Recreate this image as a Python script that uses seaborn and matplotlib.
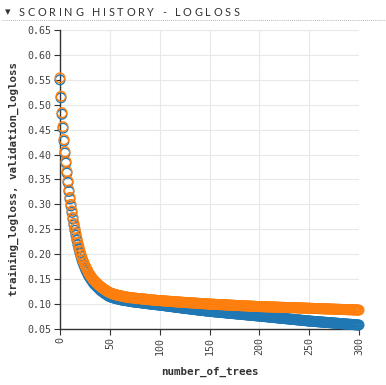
import numpy as np
import pandas as pd
import matplotlib
matplotlib.use("Agg")
import matplotlib.pyplot as plt
from matplotlib.lines import Line2D
import seaborn as sns

# ─── Data ────────────────────────────────────────────────────────────────────
training_logloss = [
    0.550, 0.514, 0.481, 0.453, 0.427, 0.403, 0.383, 0.363, 0.344, 0.326,
    0.311, 0.297, 0.284, 0.271, 0.259, 0.248, 0.238, 0.228, 0.219, 0.211,
    0.203, 0.196, 0.189, 0.183, 0.178, 0.173, 0.168, 0.164, 0.160, 0.156,
    0.153, 0.150, 0.147, 0.144, 0.141, 0.139, 0.137, 0.135, 0.133, 0.131,
    0.129, 0.127, 0.126, 0.124, 0.123, 0.121, 0.120, 0.119, 0.117, 0.116,
    0.115, 0.114, 0.114, 0.113, 0.112, 0.112, 0.111, 0.111, 0.110, 0.110,
    0.109, 0.109, 0.108, 0.108, 0.108, 0.107, 0.107, 0.107, 0.106, 0.106,
    0.106, 0.105, 0.105, 0.105, 0.104, 0.104, 0.1038, 0.1036, 0.1033, 0.1031,
    0.1028, 0.1026, 0.1023, 0.1021, 0.1018, 0.1016, 0.1013, 0.1011, 0.1008, 0.1006,
    0.1003, 0.1001, 0.0998, 0.0996, 0.0993, 0.0991, 0.0989, 0.0987, 0.0985, 0.0983,
    0.0980, 0.0977, 0.0975, 0.0972, 0.0970, 0.0967, 0.0964, 0.0962, 0.0959, 0.0957,
    0.0954, 0.0951, 0.0949, 0.0946, 0.0944, 0.0941, 0.0938, 0.0936, 0.0933, 0.0931,
    0.0928, 0.0925, 0.0923, 0.0920, 0.0918, 0.0915, 0.0913, 0.0910, 0.0908, 0.0905,
    0.0903, 0.0900, 0.0898, 0.0895, 0.0893, 0.0890, 0.0888, 0.0885, 0.0883, 0.0880,
    0.0878, 0.0876, 0.0873, 0.0871, 0.0869, 0.0866, 0.0864, 0.0862, 0.0859, 0.0857,
    0.0855, 0.0853, 0.0851, 0.0849, 0.0847, 0.0845, 0.0843, 0.0841, 0.0839, 0.0837,
    0.0836, 0.0834, 0.0832, 0.0830, 0.0828, 0.0826, 0.0824, 0.0822, 0.0820, 0.0818,
    0.0817, 0.0815, 0.0813, 0.0811, 0.0809, 0.0807, 0.0805, 0.0803, 0.0801, 0.0799,
    0.0798, 0.0796, 0.0794, 0.0792, 0.0790, 0.0788, 0.0786, 0.0784, 0.0782, 0.0780,
    0.0779, 0.0777, 0.0775, 0.0773, 0.0771, 0.0769, 0.0767, 0.0765, 0.0763, 0.0762,
    0.0760, 0.0758, 0.0756, 0.0754, 0.0752, 0.0750, 0.0748, 0.0746, 0.0744, 0.0742,
    0.0740, 0.0738, 0.0736, 0.0734, 0.0732, 0.0730, 0.0728, 0.0726, 0.0724, 0.0722,
    0.0720, 0.0718, 0.0716, 0.0714, 0.0712, 0.0710, 0.0708, 0.0706, 0.0704, 0.0702,
    0.0700, 0.0698, 0.0696, 0.0694, 0.0692, 0.0690, 0.0688, 0.0686, 0.0684, 0.0682,
    0.0680, 0.0678, 0.0676, 0.0674, 0.0672, 0.0670, 0.0668, 0.0666, 0.0664, 0.0662,
    0.0660, 0.0658, 0.0657, 0.0655, 0.0653, 0.0652, 0.0650, 0.0649, 0.0647, 0.0645,
    0.0644, 0.0642, 0.0641, 0.0639, 0.0637, 0.0636, 0.0634, 0.0633, 0.0631, 0.0629,
    0.0628, 0.0626, 0.0625, 0.0623, 0.0621, 0.0620, 0.0618, 0.0617, 0.0615, 0.0613,
    0.0612, 0.0610, 0.0609, 0.0607, 0.0605, 0.0604, 0.0602, 0.0601, 0.0599, 0.0597,
    0.0596, 0.0594, 0.0593, 0.0591, 0.0589, 0.0588, 0.0586, 0.0585, 0.0583, 0.0581,
    0.0580,
]

validation_logloss = [
    0.554, 0.517, 0.484, 0.456, 0.430, 0.406, 0.386, 0.366, 0.347, 0.329,
    0.314, 0.300, 0.287, 0.274, 0.262, 0.252, 0.242, 0.232, 0.223, 0.215,
    0.207, 0.200, 0.194, 0.188, 0.183, 0.178, 0.174, 0.170, 0.166, 0.162,
    0.159, 0.156, 0.153, 0.150, 0.148, 0.146, 0.144, 0.142, 0.140, 0.138,
    0.136, 0.135, 0.133, 0.132, 0.130, 0.129, 0.128, 0.126, 0.125, 0.124,
    0.123, 0.122, 0.121, 0.121, 0.120, 0.119, 0.119, 0.118, 0.118, 0.117,
    0.117, 0.116, 0.116, 0.116, 0.115, 0.115, 0.114, 0.114, 0.114, 0.113,
    0.113, 0.113, 0.113, 0.112, 0.112, 0.112, 0.112, 0.111, 0.111, 0.111,
    0.111, 0.111, 0.110, 0.110, 0.110, 0.110, 0.110, 0.109, 0.109, 0.109,
    0.109, 0.109, 0.108, 0.108, 0.108, 0.108, 0.108, 0.107, 0.107, 0.107,
    0.1070, 0.1069, 0.1067, 0.1066, 0.1064, 0.1063, 0.1061, 0.1060, 0.1058, 0.1057,
    0.1055, 0.1054, 0.1052, 0.1051, 0.1049, 0.1048, 0.1046, 0.1045, 0.1043, 0.1042,
    0.1040, 0.1039, 0.1038, 0.1036, 0.1035, 0.1033, 0.1032, 0.1031, 0.1029, 0.1028,
    0.1027, 0.1025, 0.1024, 0.1023, 0.1021, 0.1020, 0.1019, 0.1017, 0.1016, 0.1015,
    0.1013, 0.1012, 0.1011, 0.1009, 0.1008, 0.1007, 0.1005, 0.1004, 0.1003, 0.1001,
    0.1000, 0.0999, 0.0998, 0.0997, 0.0996, 0.0995, 0.0994, 0.0993, 0.0992, 0.0991,
    0.0990, 0.0989, 0.0988, 0.0987, 0.0986, 0.0985, 0.0984, 0.0983, 0.0982, 0.0981,
    0.0980, 0.0979, 0.0978, 0.0977, 0.0976, 0.0975, 0.0974, 0.0973, 0.0972, 0.0971,
    0.0970, 0.0969, 0.0968, 0.0967, 0.0966, 0.0965, 0.0964, 0.0963, 0.0962, 0.0961,
    0.0960, 0.0959, 0.0958, 0.0957, 0.0956, 0.0955, 0.0954, 0.0953, 0.0952, 0.0951,
    0.0950, 0.0949, 0.0949, 0.0948, 0.0947, 0.0947, 0.0946, 0.0945, 0.0945, 0.0944,
    0.0943, 0.0943, 0.0942, 0.0941, 0.0941, 0.0940, 0.0939, 0.0939, 0.0938, 0.0937,
    0.0936, 0.0936, 0.0935, 0.0934, 0.0934, 0.0933, 0.0932, 0.0932, 0.0931, 0.0930,
    0.0930, 0.0929, 0.0928, 0.0928, 0.0927, 0.0926, 0.0925, 0.0925, 0.0924, 0.0923,
    0.0923, 0.0922, 0.0921, 0.0921, 0.0920, 0.0919, 0.0919, 0.0918, 0.0917, 0.0917,
    0.0916, 0.0915, 0.0915, 0.0914, 0.0913, 0.0912, 0.0912, 0.0911, 0.0910, 0.0910,
    0.0909, 0.0908, 0.0907, 0.0907, 0.0906, 0.0905, 0.0904, 0.0904, 0.0903, 0.0902,
    0.0902, 0.0901, 0.0900, 0.0899, 0.0899, 0.0898, 0.0897, 0.0896, 0.0896, 0.0895,
    0.0894, 0.0894, 0.0893, 0.0892, 0.0891, 0.0891, 0.0890, 0.0889, 0.0888, 0.0888,
    0.0887, 0.0886, 0.0886, 0.0885, 0.0884, 0.0883, 0.0883, 0.0882, 0.0881, 0.0880,
    0.0880,
]

number_of_trees = np.arange(len(training_logloss))
x_ticks = [0, 50, 100, 150, 200, 250, 300]
y_ticks = [0.05, 0.10, 0.15, 0.20, 0.25, 0.30, 0.35, 0.40, 0.45, 0.50, 0.55, 0.60, 0.65]
title_text = "SCORING HISTORY - LOGLOSS"

TRAIN_COLOR = "#1f77b4"
VALID_COLOR = "#ff7f0e"
MONO = "DejaVu Sans Mono"

df = pd.DataFrame({
    "number_of_trees": number_of_trees,
    "training_logloss": training_logloss,
    "validation_logloss": validation_logloss,
})

# ─── Figure ──────────────────────────────────────────────────────────────────
sns.set_style("white")
fig = plt.figure(figsize=(3.86, 3.85), dpi=100)
W, H = 386, 385
ax = fig.add_axes([60 / W, 1 - 329 / H, 299 / W, 299 / H])

for col, color in [("training_logloss", TRAIN_COLOR), ("validation_logloss", VALID_COLOR)]:
    sns.scatterplot(
        data=df, x="number_of_trees", y=col, ax=ax,
        marker="o", s=48, facecolor="none", edgecolor=color,
        linewidth=1.0, clip_on=False, zorder=3,
    )

ax.set_xlim(0, 300)
ax.set_ylim(0.05, 0.65)
ax.set_xticks(x_ticks)
ax.set_yticks(y_ticks)
ax.set_xticklabels([str(t) for t in x_ticks], rotation=90)
ax.set_yticklabels([f"{t:.2f}" for t in y_ticks])
ax.grid(True, color="#e8e8e8", linewidth=0.8)
ax.set_axisbelow(True)

for side in ["top", "right"]:
    ax.spines[side].set_visible(False)
for side in ["left", "bottom"]:
    ax.spines[side].set_color("#333333")
    ax.spines[side].set_linewidth(1.0)

ax.tick_params(axis="both", length=4, width=0.8, color="#333333",
               labelsize=7.2, labelcolor="#444444", pad=2, left=True, bottom=True)
for lbl in ax.get_xticklabels() + ax.get_yticklabels():
    lbl.set_family(MONO)

ax.set_xlabel("number_of_trees", family=MONO, fontsize=7.8,
              fontweight="bold", color="#333333", labelpad=8)
ax.set_ylabel("training_logloss, validation_logloss", family=MONO, fontsize=7.8,
              fontweight="bold", color="#333333", labelpad=6)

# ─── Title with letter spacing ───────────────────────────────────────────────
renderer = fig.canvas.get_renderer()
fig.text(5 / W, 1 - 15 / H, "\u25be", family=["DejaVu Sans"], fontsize=8,
         color="#333333", va="baseline", ha="left")
x_px = 19.0
for ch in title_text:
    t = fig.text(x_px / W, 1 - 16.5 / H, ch, family=["Lato", "DejaVu Sans"],
                 fontsize=7.8, color="#333333", va="baseline", ha="left")
    w = t.get_window_extent(renderer).width
    if ch == " ":
        w = 3.0
    x_px += w + 2.7

fig.add_artist(Line2D([2 / W, 1], [1 - 19.5 / H, 1 - 19.5 / H],
                      transform=fig.transFigure, color="#999999",
                      linestyle=(0, (1, 1.5)), linewidth=0.6))

fig.savefig("out.png", dpi=100)
plt.close(fig)
